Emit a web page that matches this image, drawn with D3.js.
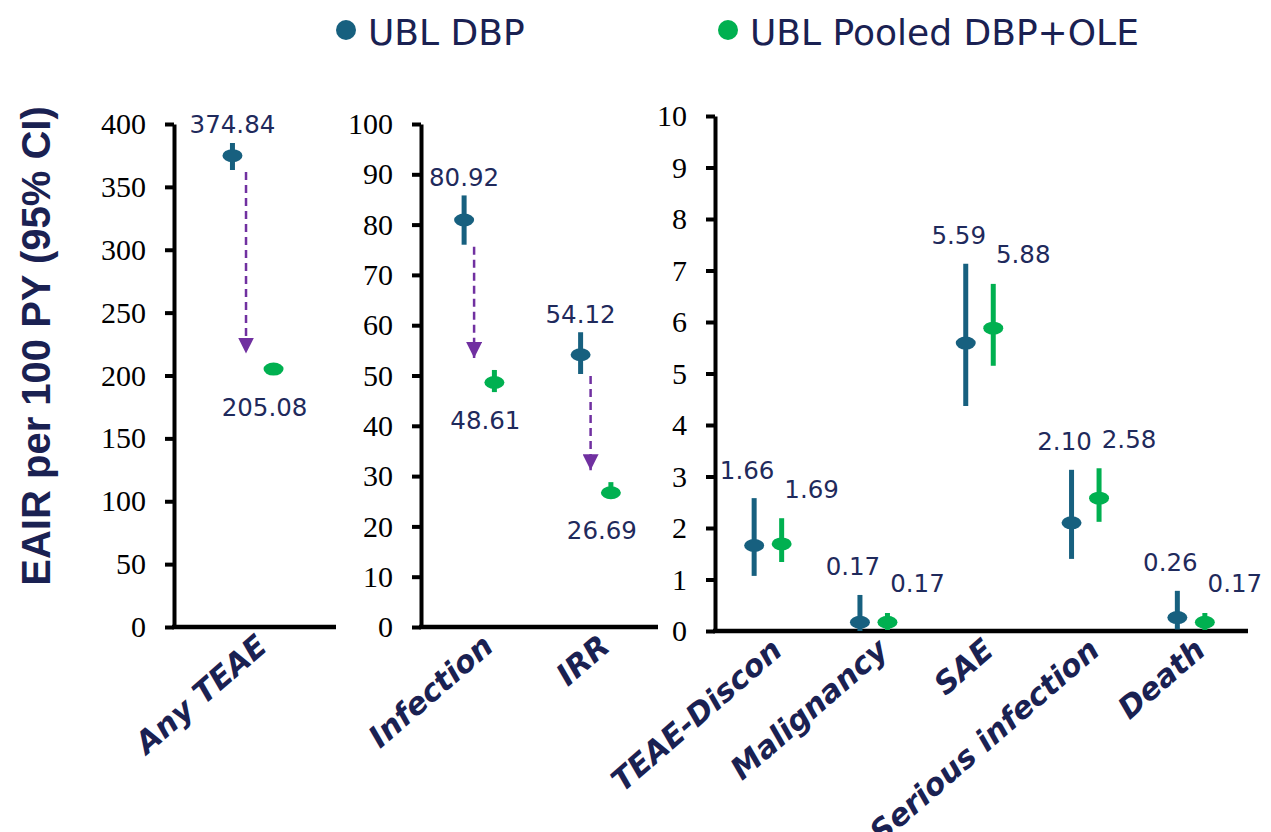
<!DOCTYPE html>
<html><head><meta charset="utf-8">
<script src="https://cdn.jsdelivr.net/npm/d3@7"></script>
<style>body{margin:0;background:#fff}svg{display:block}</style>
</head><body>
<svg id="chart" width="1271" height="832"></svg>
<script>
// ---------- DATA ----------
const seriesNames = ["UBL DBP", "UBL Pooled DBP+OLE"];
const seriesColors = ["#17607f", "#00b050"];
const yTitle = "EAIR per 100 PY (95% CI)";

// Panel 1
const p1Categories = ["Any TEAE"];
const p1Ticks = [0, 50, 100, 150, 200, 250, 300, 350, 400];
const p1DBP = [374.84], p1DBPLow = [363.4], p1DBPHigh = [384.9];
const p1Pool = [205.08], p1PoolLow = [202.3], p1PoolHigh = [207.9];

// Panel 2
const p2Categories = ["Infection", "IRR"];
const p2Ticks = [0, 10, 20, 30, 40, 50, 60, 70, 80, 90, 100];
const p2DBP = [80.92, 54.12], p2DBPLow = [76.0, 50.3], p2DBPHigh = [85.8, 58.6];
const p2Pool = [48.61, 26.69], p2PoolLow = [46.7, 25.6], p2PoolHigh = [51.1, 28.8];

// Panel 3
const p3Categories = ["TEAE-Discon", "Malignancy", "SAE", "Serious infection", "Death"];
const p3Ticks = [0, 1, 2, 3, 4, 5, 6, 7, 8, 9, 10];
const p3DBP = [1.66, 0.17, 5.59, 2.10, 0.26];
const p3DBPLow = [1.07, 0.00, 4.37, 1.40, 0.03];
const p3DBPHigh = [2.58, 0.70, 7.13, 3.13, 0.78];
const p3Pool = [1.69, 0.17, 5.88, 2.58, 0.17];
const p3PoolLow = [1.34, 0.02, 5.15, 2.12, 0.02];
const p3PoolHigh = [2.19, 0.35, 6.74, 3.16, 0.35];

// ---------- DRAW ----------
const svg = d3.select("#chart");
const navy = "#1a2152";
const labelNavy = "#1f2a5c";
const purple = "#7030a0";

svg.append("defs").append("marker")
  .attr("id", "arrowHead").attr("viewBox", "0 0 10 10")
  .attr("refX", 10).attr("refY", 5)
  .attr("markerWidth", 16).attr("markerHeight", 16)
  .attr("markerUnits", "userSpaceOnUse")
  .attr("orient", "auto")
  .append("path").attr("d", "M0,0 L10,5 L0,10 Z").attr("fill", purple);

function rows(cats, d, dl, dh, p, pl, ph) {
  return cats.map((c, i) => ({
    cat: c,
    s: [
      {v: d[i], lo: dl[i], hi: dh[i], k: 0},
      {v: p[i], lo: pl[i], hi: ph[i], k: 1}
    ]
  }));
}

const panels = [
  {x0: 174, x1: 332, top: 124, bot: 627, max: 400, ticks: p1Ticks, arrows: true, style: "drop",
   data: rows(p1Categories, p1DBP, p1DBPLow, p1DBPHigh, p1Pool, p1PoolLow, p1PoolHigh)},
  {x0: 421, x1: 654, top: 124, bot: 627, max: 100, ticks: p2Ticks, arrows: true, style: "drop",
   data: rows(p2Categories, p2DBP, p2DBPLow, p2DBPHigh, p2Pool, p2PoolLow, p2PoolHigh)},
  {x0: 715, x1: 1244, top: 116, bot: 631, max: 10, ticks: p3Ticks, arrows: false, style: "side",
   data: rows(p3Categories, p3DBP, p3DBPLow, p3DBPHigh, p3Pool, p3PoolLow, p3PoolHigh)}
];

panels.forEach(P => {
  const g = svg.append("g");
  const y = d3.scaleLinear().domain([0, P.max]).range([P.bot, P.top]);
  const x = d3.scaleBand().domain(P.data.map(d => d.cat)).range([P.x0, P.x1]);
  const bw = x.bandwidth();
  const off = d3.scalePoint().domain([0, 1]).range([-0.13 * bw, 0.13 * bw]);

  // y axis
  const ax = g.append("g").attr("transform", `translate(${P.x0},0)`)
    .call(d3.axisLeft(y).tickValues(P.ticks).tickSize(9).tickSizeOuter(0).tickPadding(19));
  ax.select(".domain").attr("stroke", "#000").attr("stroke-width", 4);
  ax.selectAll(".tick line").attr("stroke", "#000").attr("stroke-width", 4);
  ax.selectAll(".tick text").attr("font-family", "'Liberation Serif', serif")
    .attr("font-size", 30).attr("fill", "#000");

  // x axis line
  const bx = g.append("g").attr("transform", `translate(0,${P.bot})`)
    .call(d3.axisBottom(x).tickSize(0).tickSizeOuter(0).tickFormat(""));
  bx.select(".domain").attr("stroke", "#000").attr("stroke-width", 4.5)
    .attr("d", `M${P.x0 - 2},0H${P.x1 + 4}`);

  // category labels
  g.selectAll(".cat").data(P.data).enter().append("text")
    .attr("transform", d => `translate(${x(d.cat) + bw / 2 + 16},${P.bot + 22}) rotate(-41)`)
    .attr("text-anchor", "end")
    .attr("font-family", "'DejaVu Sans', sans-serif")
    .attr("font-weight", "bold").attr("font-style", "italic")
    .attr("font-size", 30.5).attr("fill", navy)
    .text(d => d.cat);

  P.data.forEach(d => {
    const cx = x(d.cat) + bw / 2;
    d.s.forEach(s => {
      const px = cx + off(s.k);
      g.append("line").attr("x1", px).attr("x2", px)
        .attr("y1", y(s.hi)).attr("y2", y(s.lo))
        .attr("stroke", seriesColors[s.k]).attr("stroke-width", 5);
      g.append("ellipse").attr("cx", px).attr("cy", y(s.v))
        .attr("rx", 10).attr("ry", 6.5).attr("fill", seriesColors[s.k]);

      // value label
      let lx, ly;
      if (P.style === "side") {
        if (s.k === 0) { lx = px - 7; ly = y(s.hi) - 28; }
        else { lx = px + 30; ly = y(s.hi) - 29; }
      } else {
        if (s.k === 0) { lx = px; ly = y(s.hi) - 18; }
        else { lx = px - 9; ly = y(s.v) + 38; }
      }
      g.append("text").attr("x", lx).attr("y", ly)
        .attr("text-anchor", "middle").attr("dominant-baseline", "central")
        .attr("font-family", "'DejaVu Sans', sans-serif")
        .attr("font-size", 24.5).attr("fill", labelNavy)
        .text(s.v.toFixed(2));
    });

    if (P.arrows) {
      const bx0 = cx + off(0), gx = cx + off(1);
      const axx = bx0 + 0.33 * (gx - bx0);
      g.append("line").attr("x1", axx).attr("x2", axx)
        .attr("y1", y(d.s[0].lo) + 2).attr("y2", y(d.s[1].hi) - 12)
        .attr("stroke", purple).attr("stroke-width", 2.5)
        .attr("stroke-dasharray", "8,5")
        .attr("marker-end", "url(#arrowHead)");
    }
  });
});

// y title
svg.append("text")
  .attr("transform", "translate(50,346) rotate(-90)")
  .attr("text-anchor", "middle")
  .attr("font-family", "'Liberation Sans', Arial, sans-serif")
  .attr("font-weight", "bold").attr("font-size", 40).attr("fill", navy)
  .text(yTitle);

// legend
const legendX = [346, 728];
const lg = svg.append("g");
seriesNames.forEach((n, i) => {
  lg.append("circle").attr("cx", legendX[i]).attr("cy", 30).attr("r", 10).attr("fill", seriesColors[i]);
  lg.append("text").attr("x", legendX[i] + 22).attr("y", 45)
    .attr("font-family", "'DejaVu Sans', sans-serif")
    .attr("font-size", 36).attr("fill", navy).text(n);
});
</script>
</body></html>
